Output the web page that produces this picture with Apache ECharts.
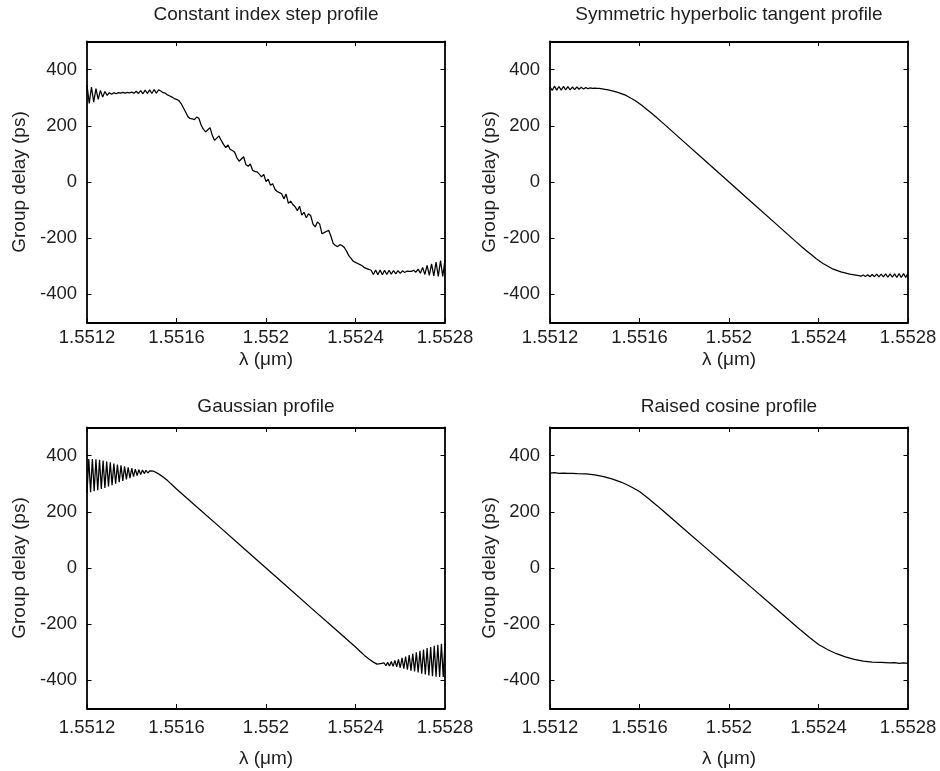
<!DOCTYPE html>
<html>
<head>
<meta charset="utf-8">
<title>Group delay of apodized gratings</title>
<script src="https://cdn.jsdelivr.net/npm/echarts@6/dist/echarts.min.js"></script>
<style>
  html, body { margin: 0; padding: 0; background: #fff; }
  #chart { width: 940px; height: 771px; }
</style>
</head>
<body>
<div id="chart"></div>
<script>
// axis ticks (wavelength in um, delay in ps)
const xTicks = [1.5512, 1.5516, 1.552, 1.5524, 1.5528];
const yTicks = [-400, -200, 0, 200, 400];

const panelTitles = [
  'Constant index step profile',
  'Symmetric hyperbolic tangent profile',
  'Gaussian profile',
  'Raised cosine profile',
];

// [wavelength (um), group delay (ps)]
const stepProfile = [
  [1.55120, 345], [1.55121, 280], [1.55122, 338], [1.55123, 284], [1.55124, 332], [1.55125, 294],
  [1.55126, 326], [1.55127, 302], [1.55128, 322], [1.55129, 308], [1.55130, 318], [1.55131, 312],
  [1.55132, 318], [1.55133, 314], [1.55134, 318], [1.55135, 316], [1.55136, 319], [1.55137, 316],
  [1.55138, 319], [1.55139, 317], [1.55140, 320], [1.55141, 316], [1.55142, 323], [1.55143, 315],
  [1.55144, 325], [1.55145, 314], [1.55146, 327], [1.55147, 315], [1.55148, 328], [1.55149, 315],
  [1.55150, 329], [1.55151, 316], [1.55152, 328], [1.55153, 324], [1.55154, 318], [1.55155, 316],
  [1.55156, 310], [1.55157, 306], [1.55158, 302], [1.55159, 297], [1.55160, 294], [1.55161, 290],
  [1.55162, 280], [1.55163, 265], [1.55164, 250], [1.55165, 234], [1.55166, 226], [1.55167, 225],
  [1.55168, 222], [1.55169, 231], [1.55170, 227], [1.55171, 203], [1.55172, 188], [1.55173, 178],
  [1.55174, 186], [1.55175, 193], [1.55176, 166], [1.55177, 148], [1.55178, 156], [1.55179, 164],
  [1.55180, 148], [1.55181, 134], [1.55182, 122], [1.55183, 132], [1.55184, 116], [1.55185, 112],
  [1.55186, 106], [1.55187, 86], [1.55188, 74], [1.55189, 82], [1.55190, 90], [1.55191, 62],
  [1.55192, 56], [1.55193, 64], [1.55194, 42], [1.55195, 38], [1.55196, 36], [1.55197, 28],
  [1.55198, 18], [1.55199, 27], [1.55200, 2], [1.55201, 10], [1.55202, -12], [1.55203, -6],
  [1.55204, -26], [1.55205, -34], [1.55206, -38], [1.55207, -42], [1.55208, -60], [1.55209, -43],
  [1.55210, -76], [1.55211, -68], [1.55212, -80], [1.55213, -88], [1.55214, -102], [1.55215, -86],
  [1.55216, -118], [1.55217, -108], [1.55218, -127], [1.55219, -113], [1.55220, -120], [1.55221, -150],
  [1.55222, -160], [1.55223, -142], [1.55224, -150], [1.55225, -184], [1.55226, -180], [1.55227, -176],
  [1.55228, -172], [1.55229, -192], [1.55230, -218], [1.55231, -226], [1.55232, -230], [1.55233, -223],
  [1.55234, -226], [1.55235, -233], [1.55236, -246], [1.55237, -262], [1.55238, -272], [1.55239, -282],
  [1.55240, -286], [1.55241, -290], [1.55242, -294], [1.55243, -298], [1.55244, -305], [1.55245, -308],
  [1.55246, -311], [1.55247, -314], [1.55248, -329], [1.55249, -313], [1.55250, -330], [1.55251, -313],
  [1.55252, -330], [1.55253, -314], [1.55254, -329], [1.55255, -314], [1.55256, -328], [1.55257, -315],
  [1.55258, -327], [1.55259, -315], [1.55260, -325], [1.55261, -316], [1.55262, -322], [1.55263, -317],
  [1.55264, -318], [1.55265, -318], [1.55266, -314], [1.55267, -321], [1.55268, -310], [1.55269, -325],
  [1.55270, -304], [1.55271, -329], [1.55272, -297], [1.55273, -332], [1.55274, -291], [1.55275, -334],
  [1.55276, -285], [1.55277, -336], [1.55278, -280], [1.55279, -336], [1.55280, -276],
];

const tanhProfile = [
  [1.55120, 338], [1.55121, 326], [1.55122, 341], [1.55123, 327], [1.55124, 340], [1.55125, 327],
  [1.55126, 340], [1.55127, 328], [1.55128, 339], [1.55129, 328], [1.55130, 338], [1.55131, 329],
  [1.55132, 338], [1.55133, 330], [1.55134, 337], [1.55135, 331], [1.55136, 336], [1.55137, 332],
  [1.55138, 335], [1.55139, 333], [1.55140, 334], [1.55141, 333], [1.55142, 333],
  [1.55146, 328], [1.55150, 320], [1.55154, 308], [1.55158, 290], [1.55161, 273], [1.55163, 260],
  [1.55165, 247], [1.55167, 234], [1.55170, 213], [1.55180, 142], [1.55190, 71], [1.55200, 0],
  [1.55210, -71], [1.55220, -142], [1.55230, -213], [1.55233, -234], [1.55235, -247], [1.55237, -260],
  [1.55239, -273], [1.55242, -290], [1.55246, -308], [1.55250, -320], [1.55254, -328],
  [1.55258, -333], [1.55259, -335], [1.55260, -331], [1.55261, -336], [1.55262, -330], [1.55263, -337],
  [1.55264, -329], [1.55265, -337], [1.55266, -328], [1.55267, -338], [1.55268, -328], [1.55269, -338],
  [1.55270, -327], [1.55271, -339], [1.55272, -327], [1.55273, -339], [1.55274, -327], [1.55275, -340],
  [1.55276, -326], [1.55277, -340], [1.55278, -326], [1.55279, -340], [1.55280, -325],
];

const gaussProfile = [
  [1.5512, 268], [1.551208, 388], [1.551216, 270], [1.551224, 388], [1.551232, 273], [1.55124, 387],
  [1.551248, 277], [1.551256, 385], [1.551264, 281], [1.551272, 382], [1.55128, 285], [1.551288, 379],
  [1.551296, 290], [1.551304, 376], [1.551312, 295], [1.55132, 372], [1.551328, 300], [1.551336, 368],
  [1.551344, 305], [1.551352, 365], [1.55136, 310], [1.551368, 362], [1.551376, 315], [1.551384, 358],
  [1.551392, 320], [1.5514, 355], [1.551408, 325], [1.551416, 352], [1.551424, 329], [1.551432, 350],
  [1.55144, 333], [1.551448, 349], [1.551456, 336], [1.551464, 348], [1.551472, 338], [1.55148, 346],
  [1.551488, 340], [1.551496, 345],
  [1.551504, 342], [1.55152, 335], [1.55154, 324], [1.55156, 311], [1.55158, 296], [1.5516, 281],
  [1.5517, 211], [1.5518, 141], [1.5519, 70], [1.552, 0], [1.5521, -70], [1.5522, -141],
  [1.5523, -211], [1.5524, -281], [1.55242, -296], [1.55244, -311], [1.55246, -324], [1.55248, -335],
  [1.552496, -342], [1.552504, -345], [1.552512, -340], [1.55252, -346], [1.552528, -338], [1.552536, -348],
  [1.552544, -336], [1.552552, -349], [1.55256, -333], [1.552568, -350], [1.552576, -329], [1.552584, -352],
  [1.552592, -325], [1.5526, -355], [1.552608, -320], [1.552616, -358], [1.552624, -315], [1.552632, -362],
  [1.55264, -310], [1.552648, -365], [1.552656, -305], [1.552664, -368], [1.552672, -300], [1.55268, -372],
  [1.552688, -295], [1.552696, -376], [1.552704, -290], [1.552712, -379], [1.55272, -285], [1.552728, -382],
  [1.552736, -281], [1.552744, -385], [1.552752, -277], [1.55276, -387], [1.552768, -273], [1.552776, -388],
  [1.552784, -270], [1.552792, -388], [1.5528, -268],
];

const cosineProfile = [
  [1.5512, 338], [1.55122, 339], [1.55124, 337], [1.55126, 338], [1.55128, 337], [1.5513, 337],
  [1.55132, 336], [1.55136, 335], [1.5514, 331], [1.55144, 325], [1.55148, 316], [1.55152, 305],
  [1.55156, 290], [1.5516, 272], [1.55164, 247], [1.55168, 221], [1.5517, 207], [1.5518, 138],
  [1.5519, 69], [1.552, 0], [1.5521, -69], [1.5522, -138], [1.5523, -207], [1.55232, -221],
  [1.55236, -247], [1.5524, -272], [1.55244, -290], [1.55248, -305], [1.55252, -316], [1.55256, -325],
  [1.5526, -331], [1.55264, -335], [1.55268, -336], [1.5527, -337], [1.55272, -338], [1.55274, -337],
  [1.55276, -339], [1.55278, -338], [1.5528, -339],
];

const FONT = 'Liberation Sans';
const TEXT_COLOR = '#1e1e1e';
const LABEL_SIZE = 18.5;
const TITLE_SIZE = 19;
const PLOT_WIDTH = 358;
const PLOT_HEIGHT = 281;

// layout of the 2x2 subplots
const panels = [
  { title: panelTitles[0], data: stepProfile, left: 87, top: 41.5, titleY: 15, xLabelMargin: 6, xNameGap: 28, yNameGap: 58 },
  { title: panelTitles[1], data: tanhProfile, left: 550, top: 41.5, titleY: 15, xLabelMargin: 6, xNameGap: 28, yNameGap: 51 },
  { title: panelTitles[2], data: gaussProfile, left: 87, top: 427.5, titleY: 406.5, xLabelMargin: 10, xNameGap: 41, yNameGap: 58 },
  { title: panelTitles[3], data: cosineProfile, left: 550, top: 427.5, titleY: 406.5, xLabelMargin: 10, xNameGap: 41, yNameGap: 51 },
];

const labelStyle = {
  fontFamily: FONT,
  fontSize: LABEL_SIZE,
  color: TEXT_COLOR,
};

const nameStyle = {
  fontFamily: FONT,
  fontSize: TITLE_SIZE,
  color: TEXT_COLOR,
};

const boxLine = {
  show: true,
  onZero: false,
  lineStyle: { color: '#000', width: 1.8 },
};

function tickStyle(values) {
  return {
    show: true,
    inside: true,
    length: 4.5,
    customValues: values,
    lineStyle: { color: '#000', width: 1 },
  };
}

function buildXAxis(panel, gridIndex, position) {
  const main = position === 'bottom';
  return {
    type: 'value',
    gridIndex,
    position,
    min: 1.5512,
    max: 1.5528,
    axisLine: boxLine,
    axisTick: tickStyle(xTicks),
    splitLine: { show: false },
    axisLabel: {
      show: main,
      customValues: xTicks,
      margin: panel.xLabelMargin,
      formatter: (v) => String(+v.toFixed(4)),
      ...labelStyle,
    },
    name: main ? 'λ (μm)' : '',
    nameLocation: 'middle',
    nameGap: panel.xNameGap,
    nameTextStyle: nameStyle,
  };
}

function buildYAxis(panel, gridIndex, position) {
  const main = position === 'left';
  return {
    type: 'value',
    gridIndex,
    position,
    min: -500,
    max: 500,
    axisLine: boxLine,
    axisTick: tickStyle(yTicks),
    splitLine: { show: false },
    axisLabel: {
      show: main,
      customValues: yTicks,
      margin: 10,
      formatter: (v) => String(Math.round(v)),
      ...labelStyle,
    },
    name: main ? 'Group delay (ps)' : '',
    nameLocation: 'middle',
    nameRotate: 90,
    nameGap: panel.yNameGap,
    nameTextStyle: nameStyle,
  };
}

const grids = [];
const xAxes = [];
const yAxes = [];
const series = [];
const titles = [];

panels.forEach((panel, i) => {
  grids.push({ left: panel.left, top: panel.top, width: PLOT_WIDTH, height: PLOT_HEIGHT, containLabel: false });
  xAxes.push(buildXAxis(panel, i, 'bottom'), buildXAxis(panel, i, 'top'));
  yAxes.push(buildYAxis(panel, i, 'left'), buildYAxis(panel, i, 'right'));
  series.push({
    type: 'line',
    xAxisIndex: 2 * i,
    yAxisIndex: 2 * i,
    data: panel.data,
    showSymbol: false,
    symbol: 'none',
    clip: true,
    silent: true,
    lineStyle: { color: '#000', width: 1.25 },
  });
  titles.push({
    type: 'text',
    x: panel.left + PLOT_WIDTH / 2,
    y: panel.titleY,
    style: {
      text: panel.title,
      align: 'center',
      verticalAlign: 'middle',
      fontFamily: FONT,
      fontSize: TITLE_SIZE,
      fill: TEXT_COLOR,
    },
  });
});

const chart = echarts.init(document.getElementById('chart'), null, { renderer: 'canvas' });
chart.setOption({
  backgroundColor: '#fff',
  animation: false,
  grid: grids,
  xAxis: xAxes,
  yAxis: yAxes,
  series,
  graphic: titles,
});
</script>
</body>
</html>
